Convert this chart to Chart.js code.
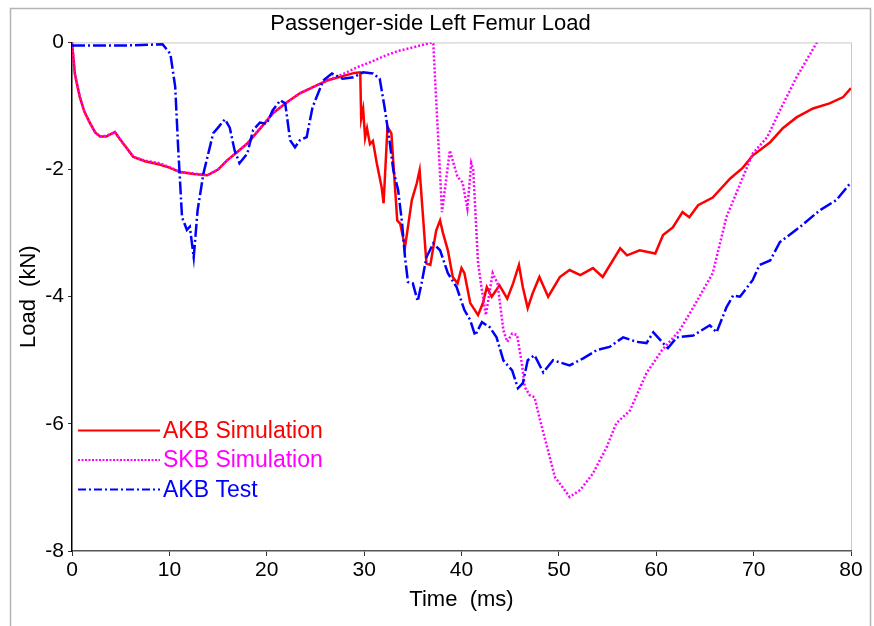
<!DOCTYPE html>
<html>
<head>
<meta charset="utf-8">
<script src="https://cdn.jsdelivr.net/npm/chart.js@4.4.1/dist/chart.umd.min.js"></script>
<style>
  html, body { margin: 0; padding: 0; background: #fff; }
  #wrap { width: 874px; height: 626px; }
</style>
</head>
<body>
<div id="wrap"><canvas id="femur" width="874" height="626"></canvas></div>
<script>
Chart.defaults.font.family = "'Liberation Sans', Arial, Helvetica, sans-serif";
Chart.defaults.color = 'black';

// AKB Simulation
const akbSimTime = [0, 0.3, 0.8, 1.3, 1.85, 2.4, 2.9, 3.5, 4.4, 5.2, 6.3, 7.5, 9.0, 10, 11.1, 12.5, 13.9, 15, 15.9, 17, 18.0, 19.3, 20.6, 22, 23.4, 24.8, 26.2, 27.8, 29.0, 29.6, 29.7, 29.9, 30.1, 30.3, 30.6, 30.9, 31.3, 31.8, 32.0, 32.4, 32.8, 33.4, 33.7, 34.2, 34.9, 35.4, 35.7, 36.4, 36.8, 37.4, 37.8, 38.1, 38.6, 39.1, 39.6, 40.0, 40.3, 40.9, 41.7, 42.2, 42.6, 43.1, 43.9, 44.7, 45.3, 45.9, 46.3, 46.8, 47.3, 48.0, 48.9, 50.1, 51.1, 52.2, 53.5, 54.5, 56.3, 57.0, 58.3, 59.9, 60.7, 61.7, 62.7, 63.4, 64.3, 65.8, 67.6, 68.9, 69.9, 71.7, 73.0, 74.4, 76.1, 77.8, 79.2, 80];
const akbSimLoad = [0, -0.5, -0.86, -1.1, -1.27, -1.42, -1.48, -1.48, -1.41, -1.58, -1.8, -1.87, -1.92, -1.97, -2.04, -2.07, -2.09, -2.0, -1.86, -1.72, -1.59, -1.36, -1.12, -0.95, -0.80, -0.7, -0.60, -0.53, -0.48, -0.47, -1.2, -1.05, -1.5, -1.35, -1.6, -1.55, -1.9, -2.28, -2.53, -1.33, -1.43, -2.8, -2.85, -3.22, -2.48, -2.22, -2.01, -3.48, -3.5, -2.96, -2.8, -3.0, -3.27, -3.69, -3.79, -3.55, -3.63, -4.1, -4.29, -4.1, -3.85, -4.0, -3.82, -4.03, -3.79, -3.5, -3.85, -4.18, -3.95, -3.69, -4.0, -3.69, -3.58, -3.66, -3.55, -3.69, -3.24, -3.35, -3.27, -3.32, -3.03, -2.91, -2.67, -2.75, -2.56, -2.44, -2.14, -1.97, -1.78, -1.57, -1.35, -1.18, -1.04, -0.96, -0.86, -0.72];

// SKB Simulation
const skbSimTime = [0, 0.3, 0.82, 1.3, 1.85, 2.4, 2.87, 3.5, 4.4, 5.2, 6.3, 7.5, 9.0, 10, 11.1, 12.5, 13.9, 15, 15.9, 17, 18, 19.3, 20.6, 22, 23.4, 24.8, 26.2, 27.8, 29.3, 30.8, 32.3, 33.6, 35.0, 36.2, 37.0, 37.1, 37.5, 38.0, 38.8, 39.6, 40.1, 40.6, 41.0, 41.2, 41.7, 42.1, 42.5, 43.2, 43.7, 44.3, 44.7, 45.2, 45.7, 46.2, 46.5, 47.0, 47.5, 48.0, 48.8, 49.6, 50.4, 51.1, 52.2, 53.5, 54.9, 55.9, 57.3, 59.0, 60.6, 62.4, 63.8, 65.8, 67.2, 68.9, 69.9, 71.4, 72.7, 74.4, 76.5];
const skbSimLoad = [0, -0.5, -0.86, -1.1, -1.27, -1.42, -1.48, -1.47, -1.41, -1.58, -1.8, -1.86, -1.9, -1.96, -2.04, -2.06, -2.09, -2.0, -1.86, -1.72, -1.59, -1.35, -1.12, -0.95, -0.80, -0.7, -0.60, -0.5, -0.39, -0.3, -0.2, -0.13, -0.08, -0.03, 0, -0.02, -1.2, -2.67, -1.70, -2.12, -2.2, -2.61, -1.9, -2.0, -3.47, -3.9, -4.29, -3.63, -3.79, -4.53, -4.71, -4.58, -4.6, -5.05, -5.42, -5.55, -5.58, -5.9, -6.37, -6.84, -7.0, -7.15, -7.04, -6.78, -6.37, -5.99, -5.79, -5.2, -4.84, -4.53, -4.17, -3.63, -2.75, -2.12, -1.75, -1.49, -1.07, -0.55, 0];

// AKB Test
const akbTestTime = [0, 5, 9.3, 10.1, 10.6, 10.9, 11.3, 11.8, 12.1, 12.5, 12.9, 13.5, 14.5, 15.0, 15.7, 16.2, 16.7, 17.2, 18.0, 18.6, 19.3, 20, 20.6, 21.4, 21.9, 22.4, 22.9, 23.4, 24.1, 24.7, 25.8, 26.7, 27.8, 28.9, 29.9, 30.9, 31.6, 32.1, 32.6, 33.0, 33.5, 33.9, 34.2, 34.5, 35.0, 35.5, 35.9, 36.4, 37.1, 37.8, 38.6, 39.5, 40.3, 40.9, 41.4, 42.1, 42.9, 43.6, 44.3, 45.2, 45.8, 46.3, 46.8, 47.5, 48.4, 49.4, 51.1, 52.5, 53.9, 55.2, 56.6, 58.0, 59.0, 59.7, 60.7, 61.2, 62.1, 63.8, 65.5, 66.2, 67.2, 67.9, 68.6, 69.9, 70.6, 71.7, 72.7, 74.7, 76.8, 78.5, 80];
const akbTestLoad = [-0.05, -0.05, -0.03, -0.18, -0.7, -1.65, -2.75, -2.95, -2.9, -3.38, -2.64, -2.06, -1.43, -1.34, -1.21, -1.34, -1.7, -1.9, -1.75, -1.38, -1.26, -1.28, -1.07, -0.91, -0.96, -1.54, -1.65, -1.54, -1.49, -1.02, -0.6, -0.49, -0.57, -0.55, -0.47, -0.49, -0.57, -1.02, -1.54, -2.01, -2.33, -2.85, -3.38, -3.77, -3.79, -4.07, -3.79, -3.38, -3.16, -3.27, -3.63, -3.85, -4.21, -4.37, -4.61, -4.4, -4.48, -4.64, -5.0, -5.16, -5.44, -5.36, -5.0, -4.92, -5.19, -5.0, -5.08, -4.97, -4.84, -4.79, -4.64, -4.71, -4.73, -4.56, -4.73, -4.81, -4.64, -4.61, -4.45, -4.56, -4.17, -3.98, -4.0, -3.74, -3.5, -3.43, -3.14, -2.91, -2.64, -2.48, -2.2];

const seriesNames = ['AKB Simulation', 'SKB Simulation', 'AKB Test'];
const seriesColors = ['#ff0000', '#ff00ff', '#0000ff'];
const seriesDash = [[], [2, 2], [13, 3, 2, 3]];
const legendDash = [[], [2, 1.5], [8, 3, 2, 3]];

const xTicks = [0, 10, 20, 30, 40, 50, 60, 70, 80];
const yTicks = [0, -2, -4, -6, -8];

function toPoints(t, v) {
    let pts = [];
    for (let i = 0; i < t.length; i++) {
        pts.push({x: t[i], y: v[i]});
    }
    return pts;
}

// frame + plot border
const framePlugin = {
    id: 'frame',
    beforeDraw(chart) {
        const c = chart.ctx;
        const a = chart.chartArea;
        c.save();
        c.strokeStyle = '#b4b4b4';
        c.lineWidth = 1.5;
        c.strokeRect(10.5, 8.5, 860, 640);
        c.strokeStyle = '#c8c8c8';
        c.lineWidth = 1;
        c.beginPath();
        c.moveTo(a.left, a.top + 0.5);
        c.lineTo(a.right + 0.5, a.top + 0.5);
        c.lineTo(a.right + 0.5, a.bottom);
        c.stroke();
        c.restore();
    }
};

// legend inside the plot, lower left
const legendPlugin = {
    id: 'innerLegend',
    afterDraw(chart) {
        const c = chart.ctx;
        const a = chart.chartArea;
        c.save();
        c.font = "23px 'Liberation Sans', Arial, sans-serif";
        c.textBaseline = 'middle';
        for (let i = 0; i < seriesNames.length; i++) {
            const y = a.top + 388 + i * 29.5;
            c.strokeStyle = seriesColors[i];
            c.lineWidth = 2;
            c.setLineDash(legendDash[i]);
            c.beginPath();
            c.moveTo(a.left + 6, y);
            c.lineTo(a.left + 88, y);
            c.stroke();
            c.setLineDash([]);
            c.fillStyle = seriesColors[i];
            c.fillText(seriesNames[i], a.left + 91, y + 1);
        }
        c.restore();
    }
};

var ctx = document.getElementById('femur').getContext('2d');

var femurChart = new Chart(ctx, {
    type: 'line',
    data: {
        datasets: [
            {
                label: seriesNames[0],
                data: toPoints(akbSimTime, akbSimLoad),
                borderColor: seriesColors[0],
                borderWidth: 2.5,
                borderDash: seriesDash[0],
                pointRadius: 0,
                tension: 0,
                order: 3
            },
            {
                label: seriesNames[1],
                data: toPoints(skbSimTime, skbSimLoad),
                borderColor: seriesColors[1],
                borderWidth: 2.5,
                borderDash: seriesDash[1],
                pointRadius: 0,
                tension: 0,
                order: 2
            },
            {
                label: seriesNames[2],
                data: toPoints(akbTestTime, akbTestLoad),
                borderColor: seriesColors[2],
                borderWidth: 2.5,
                borderDash: seriesDash[2],
                pointRadius: 0,
                tension: 0,
                order: 1
            }
        ]
    },
    options: {
        responsive: false,
        animation: false,
        layout: {
            padding: {left: 10, right: 23, top: 0, bottom: 5}
        },
        scales: {
            x: {
                type: 'linear',
                min: 0,
                max: 80,
                afterBuildTicks: (axis) => { axis.ticks = xTicks.map(v => ({value: v})); },
                afterFit: (axis) => { axis.height = 70; },
                grid: {
                    drawOnChartArea: false,
                    drawTicks: true,
                    tickLength: 5,
                    color: '#333'
                },
                border: {color: '#555', width: 1.5},
                ticks: {
                    font: {size: 21},
                    color: 'black',
                    padding: 2,
                    maxRotation: 0
                },
                title: {
                    display: true,
                    text: 'Time  (ms)',
                    font: {size: 22},
                    color: 'black',
                    padding: {top: 0, bottom: 8}
                }
            },
            y: {
                type: 'linear',
                min: -8,
                max: 0,
                afterBuildTicks: (axis) => { axis.ticks = yTicks.map(v => ({value: v})); },
                afterFit: (axis) => { axis.width = 62; },
                grid: {
                    drawOnChartArea: false,
                    drawTicks: true,
                    tickLength: 4,
                    color: '#333'
                },
                border: {color: 'black', width: 1.5},
                ticks: {
                    font: {size: 21},
                    color: 'black',
                    padding: 4
                },
                title: {
                    display: true,
                    text: 'Load  (kN)',
                    font: {size: 22},
                    color: 'black',
                    padding: {top: 6, bottom: 0}
                }
            }
        },
        plugins: {
            legend: {display: false},
            tooltip: {enabled: false},
            title: {
                display: true,
                text: 'Passenger-side Left Femur Load',
                font: {size: 22, weight: 'normal'},
                color: 'black',
                padding: {top: 11, bottom: 5}
            }
        }
    },
    plugins: [framePlugin, legendPlugin]
});
</script>
</body>
</html>
